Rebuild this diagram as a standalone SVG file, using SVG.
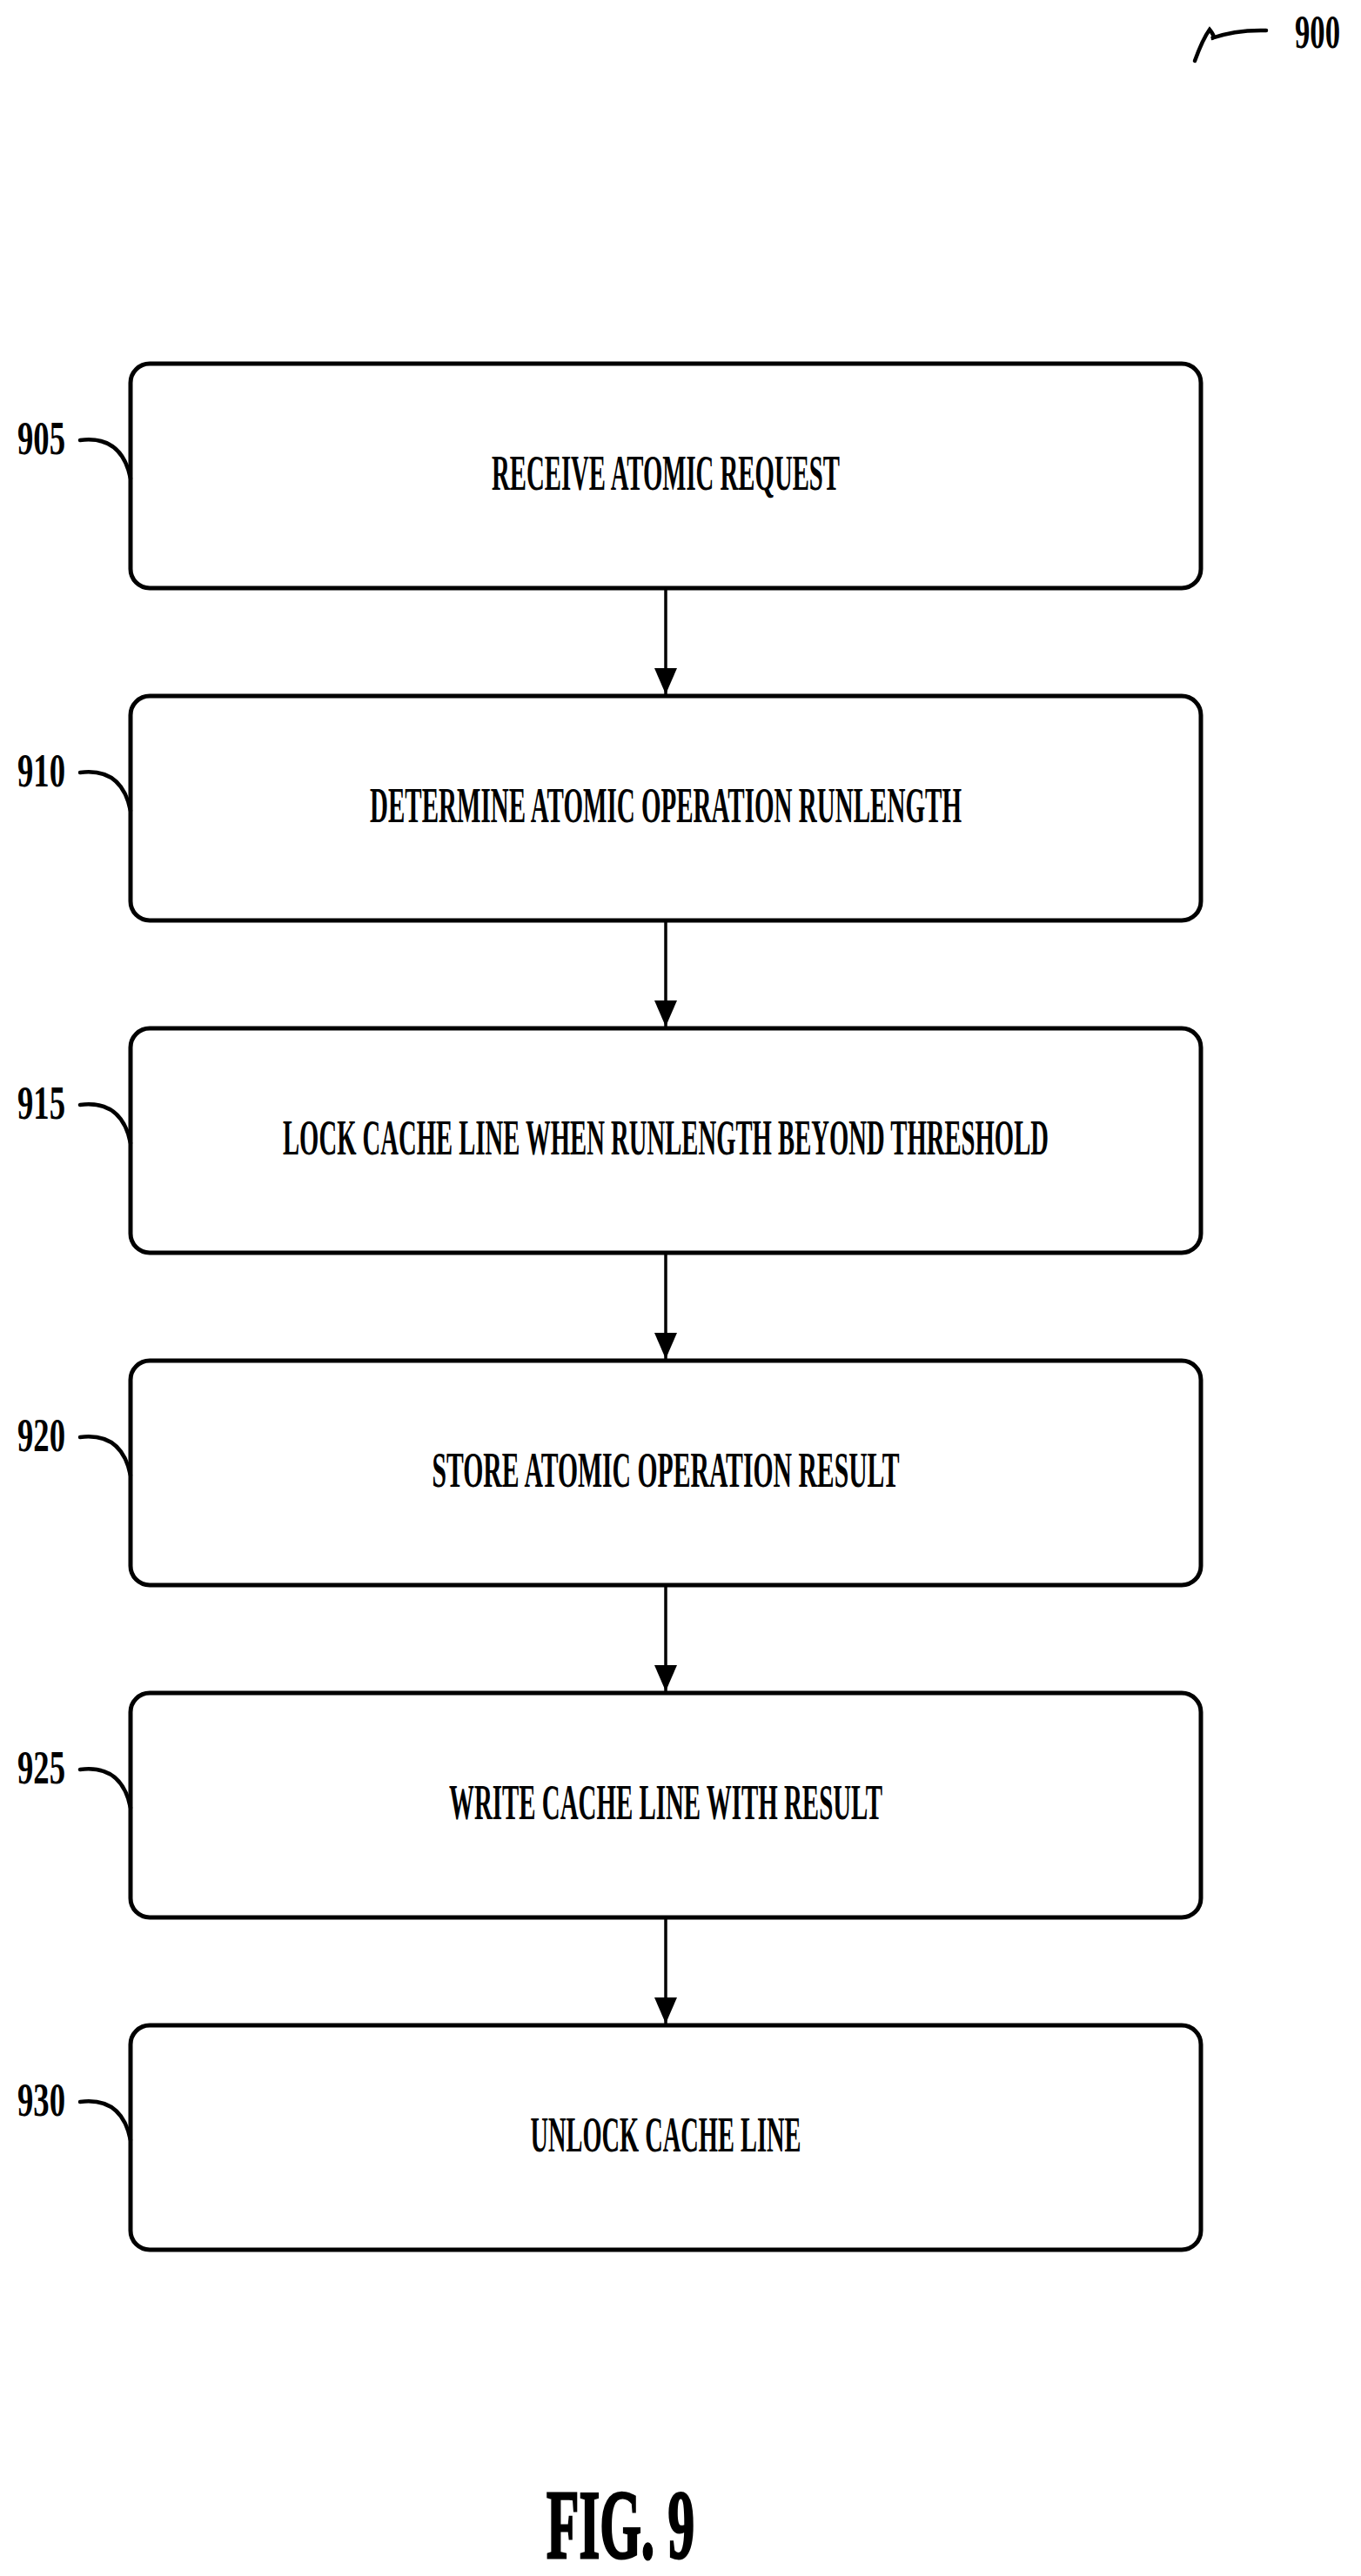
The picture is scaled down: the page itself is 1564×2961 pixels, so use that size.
<svg xmlns="http://www.w3.org/2000/svg" width="1564" height="2961" viewBox="0 0 1564 2961">
<style>
.box{fill:#fff;stroke:#000;stroke-width:5}
.t{font-family:"Liberation Serif",serif;font-weight:bold;font-size:56px;text-anchor:middle}
.l{font-family:"Liberation Serif",serif;font-weight:bold;font-size:54px}
.ld{fill:none;stroke:#000;stroke-width:4.5;stroke-linecap:round}
.c{stroke:#000;stroke-width:3.5;marker-end:url(#b)}
</style>
<defs><marker id="b" markerUnits="userSpaceOnUse" markerWidth="30" markerHeight="26" refX="30" refY="13" orient="auto" viewBox="0 0 30 26"><path d="M0,0 L30,13 L0,26 Z"/></marker></defs>
<g id="ref900"><path class="ld" d="M1373,70 Q1382,45 1390,34 Q1398,44 1392,44 Q1420,34 1455,35"/><text class="l" x="1488" y="55" textLength="52" lengthAdjust="spacingAndGlyphs">900</text></g>
<g id="n905"><rect class="box" x="150" y="418" width="1230" height="258" rx="22"/><text class="t" x="765" y="563" textLength="400" lengthAdjust="spacingAndGlyphs">RECEIVE ATOMIC REQUEST</text><text class="l" x="20" y="522" textLength="55" lengthAdjust="spacingAndGlyphs">905</text><path class="ld" d="M92,506 Q140,500 150,550"/></g>
<g id="n910"><rect class="box" x="150" y="800" width="1230" height="258" rx="22"/><text class="t" x="765" y="945" textLength="680" lengthAdjust="spacingAndGlyphs">DETERMINE ATOMIC OPERATION RUNLENGTH</text><text class="l" x="20" y="904" textLength="55" lengthAdjust="spacingAndGlyphs">910</text><path class="ld" d="M92,888 Q140,882 150,932"/></g>
<g id="n915"><rect class="box" x="150" y="1182" width="1230" height="258" rx="22"/><text class="t" x="765" y="1327" textLength="880" lengthAdjust="spacingAndGlyphs">LOCK CACHE LINE WHEN RUNLENGTH BEYOND THRESHOLD</text><text class="l" x="20" y="1286" textLength="55" lengthAdjust="spacingAndGlyphs">915</text><path class="ld" d="M92,1270 Q140,1264 150,1314"/></g>
<g id="n920"><rect class="box" x="150" y="1564" width="1230" height="258" rx="22"/><text class="t" x="765" y="1709" textLength="537" lengthAdjust="spacingAndGlyphs">STORE ATOMIC OPERATION RESULT</text><text class="l" x="20" y="1668" textLength="55" lengthAdjust="spacingAndGlyphs">920</text><path class="ld" d="M92,1652 Q140,1646 150,1696"/></g>
<g id="n925"><rect class="box" x="150" y="1946" width="1230" height="258" rx="22"/><text class="t" x="765" y="2091" textLength="498" lengthAdjust="spacingAndGlyphs">WRITE CACHE LINE WITH RESULT</text><text class="l" x="20" y="2050" textLength="55" lengthAdjust="spacingAndGlyphs">925</text><path class="ld" d="M92,2034 Q140,2028 150,2078"/></g>
<g id="n930"><rect class="box" x="150" y="2328" width="1230" height="258" rx="22"/><text class="t" x="765" y="2473" textLength="311" lengthAdjust="spacingAndGlyphs">UNLOCK CACHE LINE</text><text class="l" x="20" y="2432" textLength="55" lengthAdjust="spacingAndGlyphs">930</text><path class="ld" d="M92,2416 Q140,2410 150,2460"/></g>
<g id="connectors">
<line class="c" x1="765" y1="678" x2="765" y2="798"/>
<line class="c" x1="765" y1="1060" x2="765" y2="1180"/>
<line class="c" x1="765" y1="1442" x2="765" y2="1562"/>
<line class="c" x1="765" y1="1824" x2="765" y2="1944"/>
<line class="c" x1="765" y1="2206" x2="765" y2="2326"/>
</g>
<text x="628" y="2940" font-family="'Liberation Serif',serif" font-weight="bold" font-size="112" stroke="#000" stroke-width="3" textLength="170" lengthAdjust="spacingAndGlyphs">FIG. 9</text>
</svg>
